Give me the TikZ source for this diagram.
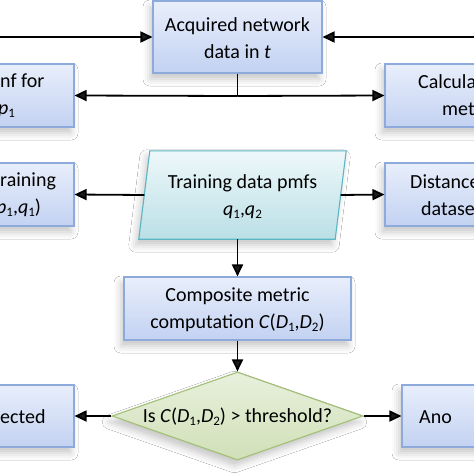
\documentclass[tikz,border=0pt]{standalone}
\usepackage{fontspec}
\setmainfont{Carlito}
\usetikzlibrary{shapes.geometric,arrows.meta,shadows.blur}
\definecolor{boxedge}{HTML}{8EAADB}
\definecolor{boxfill}{HTML}{C3D2F2}
\definecolor{boxlight}{HTML}{E8EEFB}
\definecolor{paraedge}{HTML}{5BB6C4}
\definecolor{parafill}{HTML}{BADFE6}
\definecolor{paralight}{HTML}{EEF8FA}
\definecolor{diaedge}{HTML}{A3C076}
\definecolor{diafill}{HTML}{D0E0B8}
\definecolor{dialight}{HTML}{E8F0DC}
\newcommand\sbs[1]{\raisebox{-0.3ex}{\fontsize{13}{13}\selectfont #1}}
\begin{document}
\begin{tikzpicture}[x=1pt,y=-1pt,
  txt/.style={font=\fontsize{20}{27}\selectfont, align=center, inner sep=0pt},
  ltxt/.style={font=\fontsize{20}{27}\selectfont, align=left, inner sep=0pt, anchor=west},
  shad/.style={blur shadow={shadow xshift=-3pt, shadow yshift=-6pt, shadow blur radius=7pt, shadow opacity=22}},
  box/.style={draw=boxedge, line width=1.1pt, top color=boxlight, bottom color=boxfill, shad, rectangle, inner sep=0pt},
  parashape/.style={draw=paraedge, line width=1.1pt, top color=paralight, bottom color=parafill, shad},
  dia/.style={draw=diaedge, line width=1.1pt, top color=dialight, bottom color=diafill, shad,
    diamond, aspect=2.85, inner sep=0pt},
  arr/.style={line width=1.8pt, -{Triangle[length=12pt,width=11pt]}},
  ln/.style={line width=1.8pt}]
\useasboundingbox (0,0) rectangle (474,474);
\fill[white] (0,0) rectangle (474,474);
% boxes
\node[box, minimum width=169pt, minimum height=72pt] (acq) at (237.5,37) {};
\node[txt] (acqt) at (237.5,38.5) {Acquired network\\data in \textit{t}};
\node[box, minimum width=124pt, minimum height=63pt] (left1) at (12,95.5) {};
\node[ltxt] (left1t) at (0,95.5) {nf for\\\hspace*{-2pt}\textit{p}\sbs{1}};
\node[box, minimum width=125pt, minimum height=63pt] (right1) at (447.5,95.5) {};
\node[ltxt] (right1t) at (418,95.5) {Calcula\\\hspace*{24pt}met};
\node[box, minimum width=124pt, minimum height=63pt] (left2) at (12,194.5) {};
\node[ltxt] (left2t) at (0,195) {raining\\\hspace*{-4pt}\textit{p}\sbs{1},\textit{q}\sbs{1})};
\node[box, minimum width=125pt, minimum height=63pt] (right2) at (447.5,194.5) {};
\node[ltxt] (right2t) at (410,195) {Distance\\\hspace*{11pt}datase};
% parallelogram
\node[rectangle, minimum width=196pt, minimum height=88pt, inner sep=0pt] (pm) at (242.5,195) {};
\path[parashape] ([xshift=-5.5pt]pm.south west) -- ([xshift=5.5pt]pm.north west)
  -- ([xshift=5.5pt]pm.north east) -- ([xshift=-5.5pt]pm.south east) -- cycle;
\node[txt] (pmt) at (242.5,197) {Training data pmfs\\\textit{q}\sbs{1},\textit{q}\sbs{2}};
\node[box, minimum width=227pt, minimum height=63pt] (comp) at (237.5,308.5) {};
\node[txt] (compt) at (237.5,310) {Composite metric\\computation \textit{C}(\textit{D}\sbs{1},\textit{D}\sbs{2})};
\node[dia, minimum width=251pt, minimum height=88pt] (dec) at (237.5,416) {};
\node[txt] (dect) at (237.5,417) {Is \textit{C}(\textit{D}\sbs{1},\textit{D}\sbs{2}) > threshold?};
\node[box, minimum width=124pt, minimum height=62pt] (left3) at (12,416) {};
\node[ltxt] (left3t) at (0,417) {ected};
\node[box, minimum width=125pt, minimum height=62pt] (right3) at (464.5,416) {};
\node[ltxt] (right3t) at (419,417) {Ano};
% connectors
\coordinate (inL) at (-5,37);
\coordinate (inR) at (480,37);
\coordinate (j) at (acq.south |- 0,96);
\draw[arr] (inL) -- (acq.west);
\draw[arr] (inR) -- (acq.east);
\draw[ln] (acq.south) -- (j);
\draw[arr] (j) -- (left1.east);
\draw[arr] (j) -- (right1.west);
\draw[arr] (pm.west) -- (left2.east);
\draw[arr] (pm.east) -- (right2.west);
\draw[arr] (pm.south -| acq.south) -- (comp.north);
\draw[arr] (comp.south) -- (dec.north);
\draw[arr] (dec.west) -- (left3.east);
\draw[arr] (dec.east) -- (right3.west);
\end{tikzpicture}
\end{document}
